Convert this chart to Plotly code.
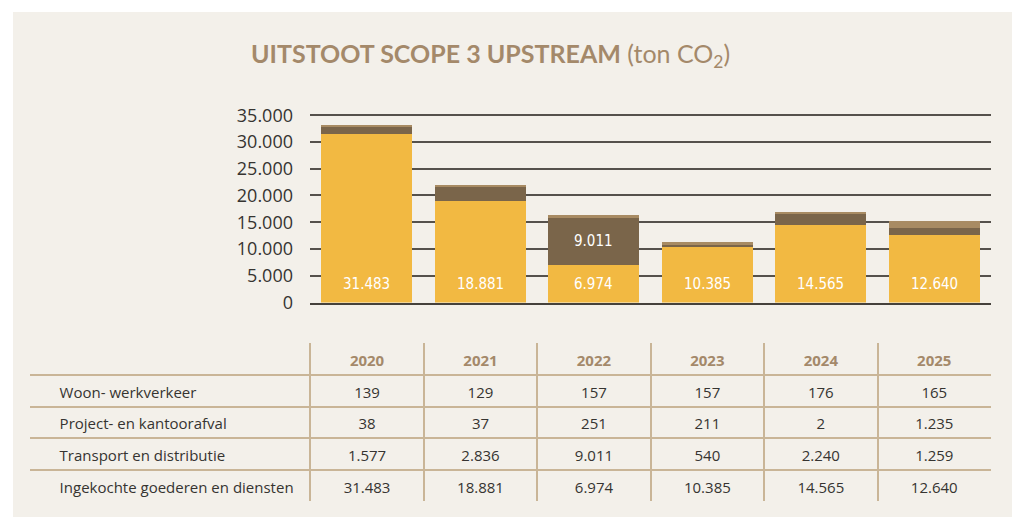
import plotly.graph_objects as go

# ---------------- data ----------------
years = ["2020", "2021", "2022", "2023", "2024", "2025"]
row_labels = ["Woon- werkverkeer", "Project- en kantoorafval",
              "Transport en distributie", "Ingekochte goederen en diensten"]
woon_werk = [139, 129, 157, 157, 176, 165]
afval = [38, 37, 251, 211, 2, 1235]
transport = [1577, 2836, 9011, 540, 2240, 1259]
ingekocht = [31483, 18881, 6974, 10385, 14565, 12640]
y_ticks = [0, 5000, 10000, 15000, 20000, 25000, 30000, 35000]

# ---------------- style ----------------
W, H = 1012, 517
BG = "#F3F0EA"
YELLOW = "#F2B942"
DARK = "#7A654A"
TAN = "#A88B63"
TITLE_C = "#A4896A"
TEXT_C = "#363431"
GRID_C = "#55514C"
TLINE_C = "#C9B597"
TITLE_FONT = "Lato, 'Open Sans', sans-serif"
FONT = "'Open Sans', Lato, sans-serif"
NUM_FONT = "'DejaVu Sans Condensed', 'DejaVu Sans Mono', monospace"


def fmt(v):
    return f"{v:,}".replace(",", ".")


def px_x(p):
    return p / W


def px_y(p):
    return 1 - p / H


fig = go.Figure()

# stacked bars
for vals, col, name in [(ingekocht, YELLOW, row_labels[3]),
                        (transport, DARK, row_labels[2]),
                        (afval, TAN, row_labels[1]),
                        (woon_werk, TAN, row_labels[0])]:
    fig.add_trace(go.Bar(x=years, y=vals, name=name, marker=dict(color=col, line=dict(width=0)),
                         xaxis="x", yaxis="y", showlegend=False, hoverinfo="skip"))

annotations = []
for i, v in enumerate(ingekocht):
    annotations.append(dict(x=i, y=0, xref="x", yref="y", text=fmt(v), showarrow=False,
                            yanchor="middle", yshift=18.5,
                            font=dict(family=NUM_FONT, size=15, color="#FFFFFF")))
for i, (base, v) in enumerate(zip(ingekocht, transport)):
    if v > 5000:
        annotations.append(dict(x=i, y=base + v / 2, xref="x", yref="y", text=fmt(v),
                                showarrow=False, yanchor="middle",
                                font=dict(family=NUM_FONT, size=15, color="#FFFFFF")))

# table as a text trace on its own axes
tx, ty, tt = [], [], []
for ci, yr in enumerate(years):
    tx.append(ci); ty.append(0); tt.append(f"<b>{yr}</b>")
data_rows = [woon_werk, afval, transport, ingekocht]
for ri, row in enumerate(data_rows):
    for ci, v in enumerate(row):
        tx.append(ci); ty.append(ri + 1); tt.append(fmt(v))
fig.add_trace(go.Scatter(x=tx, y=ty, text=tt, mode="text", xaxis="x2", yaxis="y2",
                         textposition="middle center", showlegend=False, hoverinfo="skip",
                         textfont=dict(family=FONT, size=15,
                                       color=[TITLE_C] * 6 + [TEXT_C] * 24)))
fig.add_trace(go.Scatter(x=[-2.71] * 4, y=[1, 2, 3, 4], text=row_labels, mode="text",
                         xaxis="x2", yaxis="y2", textposition="middle right",
                         showlegend=False, hoverinfo="skip",
                         textfont=dict(family=FONT, size=15, color=TEXT_C)))

# title
annotations.append(dict(x=490 / W, y=px_y(55), xref="paper", yref="paper", showarrow=False,
                        xanchor="center", yanchor="middle",
                        text="<b>UITSTOOT SCOPE 3 UPSTREAM</b> (ton CO<sub>2</sub>)",
                        font=dict(family=TITLE_FONT, size=25, color=TITLE_C)))

y_top = 35500
fig.update_layout(
    width=W, height=H, autosize=False,
    margin=dict(l=0, r=0, t=0, b=0, pad=0),
    paper_bgcolor="white", plot_bgcolor="rgba(0,0,0,0)",
    barmode="stack", bargap=0.2,
    annotations=annotations,
    shapes=[dict(type="rect", xref="paper", yref="paper", x0=px_x(13), x1=1, y0=0, y1=px_y(12),
                 fillcolor=BG, line=dict(width=0), layer="below")],
    xaxis=dict(type="category", domain=[px_x(310), px_x(991)], anchor="y", showticklabels=False,
               range=[-0.5, len(years) - 0.5],
               ticks="", showgrid=False, showline=True, linecolor="#45413C", linewidth=2,
               fixedrange=True, automargin=False),
    yaxis=dict(domain=[px_y(302.5), px_y(302.5 - y_top * 187.3 / 35000)], anchor="x",
               range=[0, y_top], tickvals=y_ticks, ticktext=[fmt(v) for v in y_ticks],
               showgrid=True, gridcolor=GRID_C, gridwidth=2, zeroline=False,
               tickfont=dict(family=FONT, size=18, color=TEXT_C), ticks="", ticklabelstandoff=16,
               fixedrange=True, automargin=False),
    xaxis2=dict(domain=[px_x(30), px_x(991)], anchor="y2", range=[-2.971, 5.5],
                tickvals=[-0.5, 0.5, 1.5, 2.5, 3.5, 4.5], showticklabels=False, ticks="",
                showgrid=True, gridcolor=TLINE_C, gridwidth=1.5, zeroline=False, fixedrange=True,
                automargin=False),
    yaxis2=dict(domain=[px_y(501), px_y(343)], anchor="x2", range=[4.375, -0.609],
                tickvals=[0.4, 1.4, 2.4, 3.4], showticklabels=False, ticks="",
                showgrid=True, gridcolor=TLINE_C, gridwidth=1.5, zeroline=False, fixedrange=True,
                automargin=False),
)

fig.write_html("out.html", config={"displayModeBar": False},
               post_script="document.body.style.margin='0';document.body.style.overflow='hidden';")
